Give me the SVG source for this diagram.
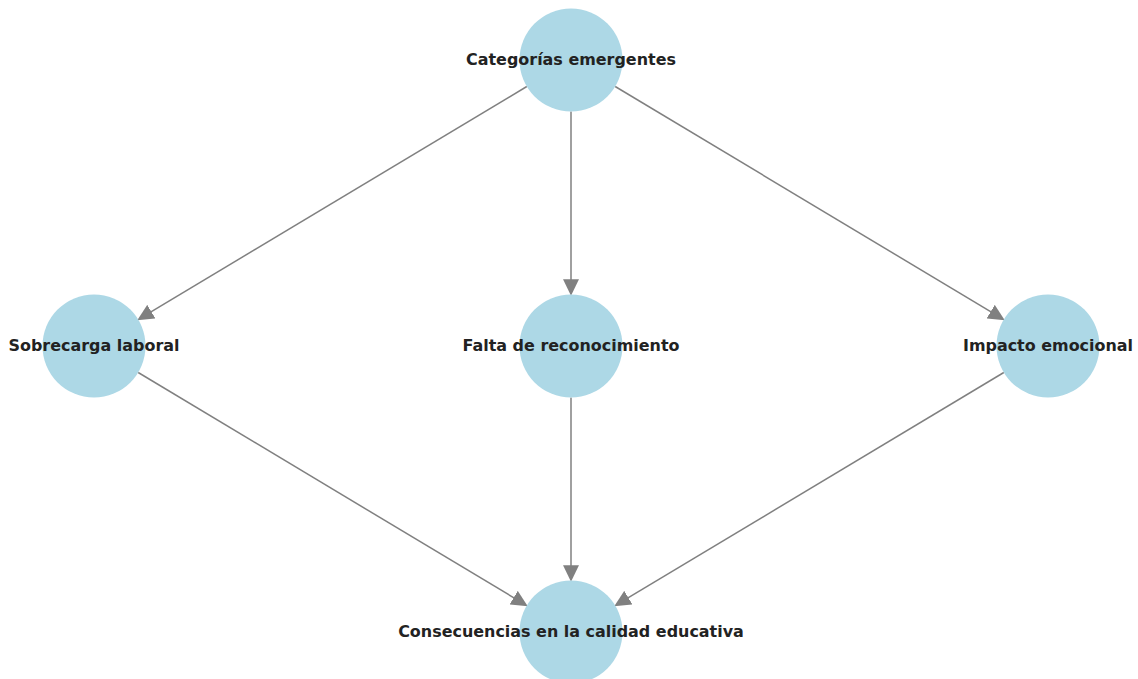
<svg xmlns="http://www.w3.org/2000/svg" width="1138" height="679" viewBox="0 0 1138 679">
<style>
.node circle{fill:#ADD8E6}
.node text{font-family:"DejaVu Sans",sans-serif;font-weight:bold;font-size:15.95px;fill:#222;text-anchor:middle}
.edge{stroke:#808080;stroke-width:1.5;fill:none}
</style>
<defs>
<marker id="arr" markerUnits="userSpaceOnUse" markerWidth="17" markerHeight="16" viewBox="0 0 16 15" refX="5" refY="7.5" orient="auto">
<path d="M0,0 L15.5,7.5 L0,15 z" fill="#808080"/>
</marker>
</defs>
<rect width="1138" height="679" fill="#fff"/>
<g id="connectors">
<line class="edge" x1="526.8" y1="86.5" x2="146.8" y2="314.4" marker-end="url(#arr)"/>
<line class="edge" x1="571" y1="111.5" x2="571" y2="284.5" marker-end="url(#arr)"/>
<line class="edge" x1="615.2" y1="86.5" x2="995.2" y2="314.4" marker-end="url(#arr)"/>
<line class="edge" x1="138.2" y1="372.5" x2="518.2" y2="600.4" marker-end="url(#arr)"/>
<line class="edge" x1="571" y1="397.5" x2="571" y2="570.5" marker-end="url(#arr)"/>
<line class="edge" x1="1003.8" y1="372.5" x2="623.8" y2="600.4" marker-end="url(#arr)"/>
</g>
<g id="n-categorias" class="node"><circle cx="571" cy="60" r="51.5"/><text x="571" y="65">Categorías emergentes</text></g>
<g id="n-sobrecarga" class="node"><circle cx="94" cy="346" r="51.5"/><text x="94" y="351">Sobrecarga laboral</text></g>
<g id="n-falta" class="node"><circle cx="571" cy="346" r="51.5"/><text x="571" y="351">Falta de reconocimiento</text></g>
<g id="n-impacto" class="node"><circle cx="1048" cy="346" r="51.5"/><text x="1048" y="351">Impacto emocional</text></g>
<g id="n-consecuencias" class="node"><circle cx="571" cy="632" r="51.5"/><text x="571" y="637">Consecuencias en la calidad educativa</text></g>
</svg>
